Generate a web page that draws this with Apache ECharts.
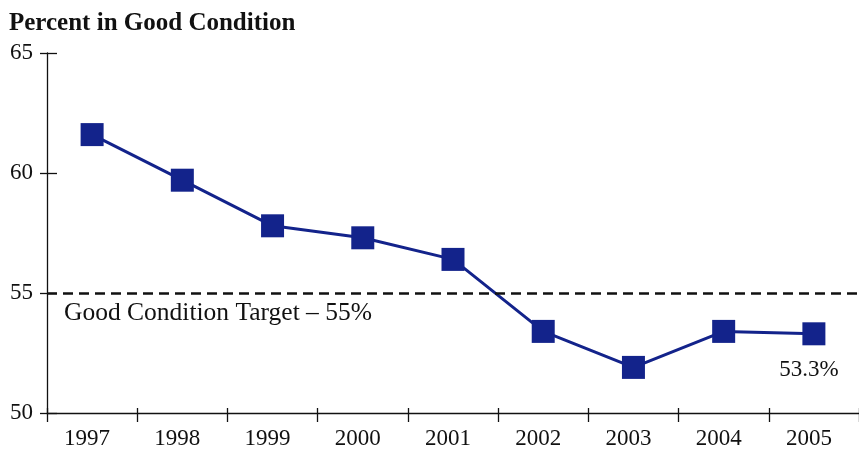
<!DOCTYPE html>
<html>
<head>
<meta charset="utf-8">
<script src="https://cdn.jsdelivr.net/npm/echarts@6/dist/echarts.min.js"></script>
<style>
    html, body { margin: 0; padding: 0; background: #fff; }
    #chart { width: 859px; height: 453px; }
</style>
</head>
<body>
<div id="chart"></div>
<script>
var years = ['1997', '1998', '1999', '2000', '2001', '2002', '2003', '2004', '2005'];
var goodCondition = [61.6, 59.7, 57.8, 57.3, 56.4, 53.4, 51.9, 53.4, 53.3];
var targetValue = 55;
var yTicks = { min: 50, max: 65, interval: 5 };

var serif = '"Liberation Serif", "DejaVu Serif", serif';
var navy = '#13238b';
var ink = '#111';

var chart = echarts.init(document.getElementById('chart'));
chart.setOption({
    animation: false,
    title: {
        text: 'Percent in Good Condition',
        left: 4,
        top: 6,
        textStyle: { fontFamily: serif, fontWeight: 'bold', fontSize: 25, color: ink }
    },
    grid: { left: 47, top: 53, bottom: 40, width: 817 },
    xAxis: [
        {
            type: 'category',
            data: years,
            boundaryGap: true,
            axisLine: { show: true, lineStyle: { color: ink, width: 1.3 } },
            axisTick: { show: true, interval: 0, alignWithLabel: false, length: 9, lineStyle: { color: ink, width: 1.3 } },
            axisLabel: { fontFamily: serif, fontSize: 23, color: ink, margin: 14, padding: [0, 10, 0, 0] }
        },
        {
            type: 'category',
            data: years,
            position: 'bottom',
            boundaryGap: true,
            axisLine: { show: false },
            axisTick: { show: true, interval: 0, inside: true, length: 5, lineStyle: { color: ink, width: 1.3 } },
            axisLabel: { show: false }
        }
    ],
    yAxis: [
        {
            type: 'value',
            min: yTicks.min,
            max: yTicks.max,
            interval: yTicks.interval,
            splitLine: { show: false },
            axisLine: { show: true, lineStyle: { color: ink, width: 1.3 } },
            axisTick: { show: true, length: 7, lineStyle: { color: ink, width: 1.3 } },
            axisLabel: { fontFamily: serif, fontSize: 23, color: ink, margin: 14 }
        },
        {
            type: 'value',
            position: 'left',
            min: yTicks.min,
            max: yTicks.max,
            interval: yTicks.interval,
            splitLine: { show: false },
            axisLine: { show: false },
            axisTick: { show: true, inside: true, length: 10, lineStyle: { color: ink, width: 1.3 } },
            axisLabel: { show: false }
        }
    ],
    series: [
        {
            type: 'line',
            data: goodCondition.map(function (v, i) {
                if (i === goodCondition.length - 1) {
                    return {
                        value: v,
                        label: {
                            show: true,
                            position: 'bottom',
                            distance: 13,
                            offset: [-5, 0],
                            formatter: '{c}%',
                            fontFamily: serif,
                            fontSize: 23,
                            color: ink
                        }
                    };
                }
                return v;
            }),
            symbol: 'rect',
            symbolSize: 23,
            itemStyle: { color: navy },
            lineStyle: { color: navy, width: 3 },
            markLine: {
                silent: true,
                symbol: 'none',
                data: [{ yAxis: targetValue }],
                lineStyle: { color: ink, type: [10, 6], width: 2.5 },
                label: { show: false }
            }
        }
    ],
    graphic: [
        {
            type: 'text',
            left: 64,
            top: 300,
            style: {
                text: 'Good Condition Target \u2013 55%',
                fontFamily: serif,
                fontSize: 25.5,
                fill: ink
            }
        }
    ]
});
</script>
</body>
</html>
